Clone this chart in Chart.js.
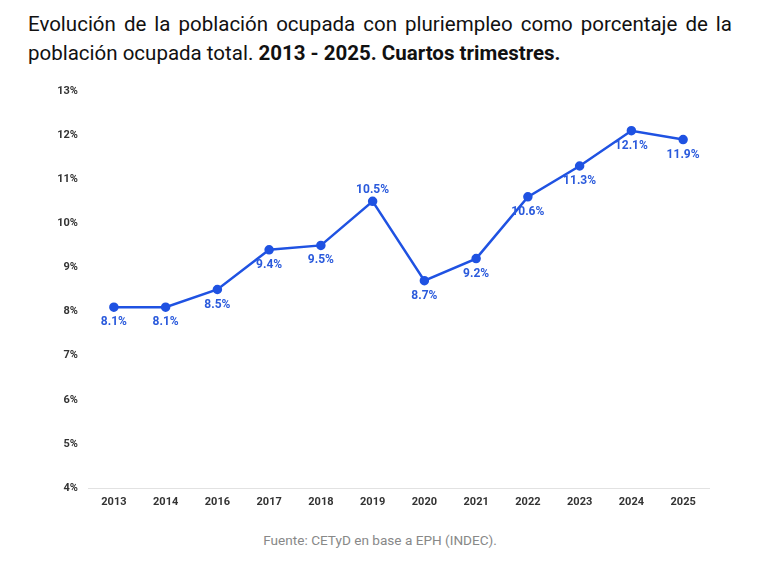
<!DOCTYPE html>
<html>
<head>
<meta charset="utf-8">
<script src="https://cdn.jsdelivr.net/npm/chart.js@4.4.0/dist/chart.umd.min.js"></script>
<style>
  body { margin: 0; background: #fff; width: 780px; height: 582px; overflow: hidden; font-family: Roboto, "Noto Sans", sans-serif; }
  #title { position: absolute; left: 28px; top: 10px; width: 704px; font-size: 20.5px; line-height: 29px; color: #111; text-align: justify; text-align-last: left; }
  #title b { font-weight: 700; }
  #wrap { position: absolute; left: 0; top: 76px; width: 780px; height: 435px; }
  #fuente { position: absolute; left: 0; width: 760px; top: 532px; text-align: center; font-size: 13.6px; color: #888; }
</style>
</head>
<body>
<div id="title">Evolución de la población ocupada con pluriempleo como porcentaje de la población ocupada total. <b>2013 - 2025. Cuartos trimestres.</b></div>
<div id="wrap"><canvas id="mychart"></canvas></div>
<div id="fuente">Fuente: CETyD en base a EPH (INDEC).</div>
<script>
const years = ['2013', '2014', '2016', '2017', '2018', '2019', '2020', '2021', '2022', '2023', '2024', '2025'];
const pluriempleo = [8.1, 8.1, 8.5, 9.4, 9.5, 10.5, 8.7, 9.2, 10.6, 11.3, 12.1, 11.9];
// which labels go above the point
const labelAbove = [false, false, false, false, false, true, false, false, false, false, false, false];

const blue = 'rgb(31, 82, 226)';

// little plugin for the value labels
const valueLabels = {
    id: 'valueLabels',
    afterDatasetsDraw(chart) {
        const ctx = chart.ctx;
        const meta = chart.getDatasetMeta(0);
        ctx.save();
        ctx.font = 'bold 12px Roboto, sans-serif';
        ctx.fillStyle = 'rgb(42, 90, 220)';
        ctx.textAlign = 'center';
        ctx.textBaseline = 'middle';
        meta.data.forEach(function(pt, i) {
            const dy = labelAbove[i] ? -11 : 15;
            ctx.fillText(pluriempleo[i].toFixed(1) + '%', pt.x, pt.y + dy);
        });
        ctx.restore();
    }
};

const abc = document.getElementById('mychart').getContext('2d');
new Chart(abc, {
    type: 'line',
    data: {
        labels: years,
        datasets: [{
            data: pluriempleo,
            borderColor: blue,
            backgroundColor: blue,
            borderWidth: 2.5,
            pointRadius: 3.5,
            pointHoverRadius: 3.5,
            tension: 0,
            clip: false
        }]
    },
    options: {
        responsive: true,
        maintainAspectRatio: false,
        animation: false,
        layout: { padding: { top: 15, right: 71, left: 0, bottom: 0 } },
        plugins: {
            legend: { display: false },
            tooltip: { enabled: false }
        },
        scales: {
            x: {
                offset: true,
                grid: { display: false },
                border: { display: true, color: '#e2e2e2', width: 1 },
                ticks: { color: '#333', font: { family: 'Roboto', size: 11, weight: 'bold' }, padding: 0, maxRotation: 0, autoSkip: false },
                afterFit: function(scale) { scale.height = 23; }
            },
            y: {
                min: 4,
                max: 13,
                grid: { display: false },
                border: { display: false },
                ticks: {
                    stepSize: 1,
                    color: '#333',
                    font: { family: 'Roboto', size: 11, weight: 'bold' },
                    padding: 2,
                    callback: function(v) { return v + '%'; }
                },
                afterFit: function(scale) { scale.width = 88; }
            }
        }
    },
    plugins: [valueLabels]
});
</script>
</body>
</html>
